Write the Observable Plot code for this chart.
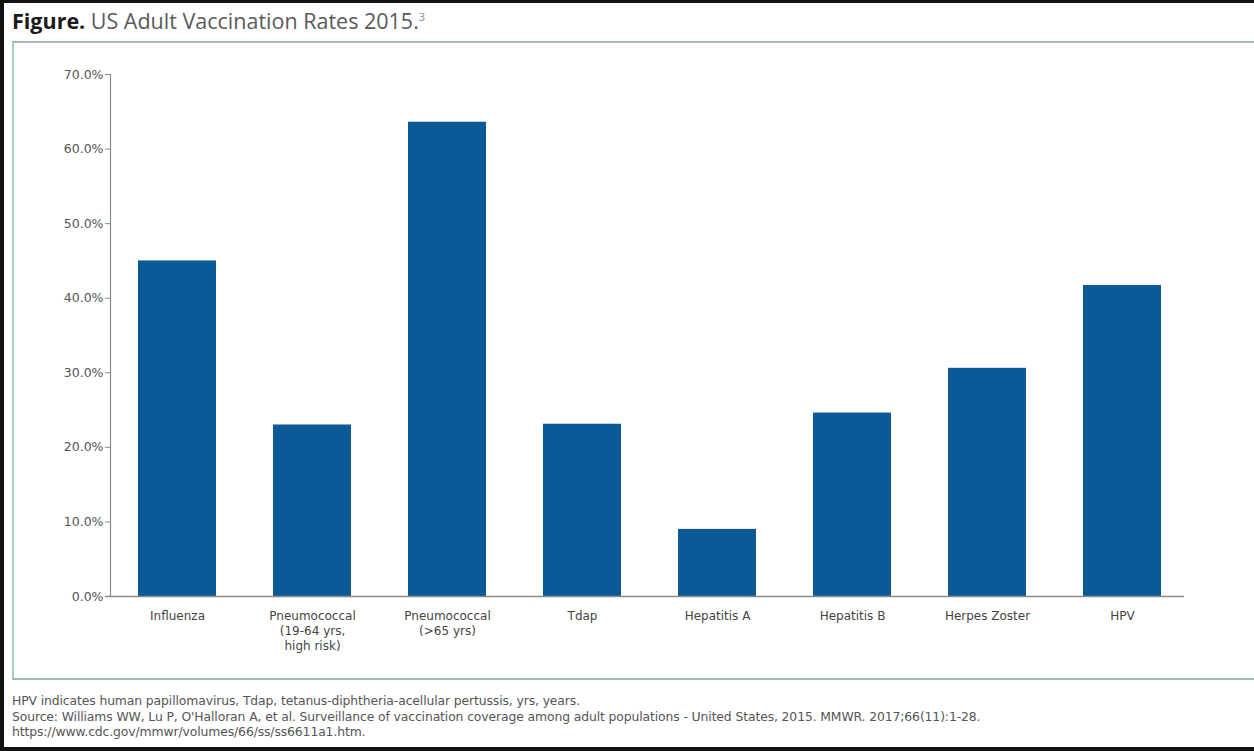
<!DOCTYPE html>
<html>
<head>
<meta charset="utf-8">
<script src="https://cdn.jsdelivr.net/npm/d3@7"></script>
<script src="https://cdn.jsdelivr.net/npm/@observablehq/plot@0.6"></script>
<style>
  html, body { margin: 0; padding: 0; background: #fff; overflow: hidden; }
  #page { position: relative; width: 1254px; height: 751px; box-sizing: border-box; border: 3px solid #111; border-left-width: 4px; border-bottom-width: 4px; border-right-width: 0; background: #fff; overflow: hidden; }
  #title { position: absolute; left: 8px; top: 3px; font-family: "Open Sans", Lato, sans-serif; font-size: 21.5px; color: #5a5a5a; white-space: nowrap; }
  #title b { color: #1a1a1a; font-weight: 700; }
  #title sup { font-size: 11px; color: #888; }
  #topline { position: absolute; left: 8px; right: 0; top: 38px; height: 0; border-top: 2px solid #a9b8b4; }
  #leftline { position: absolute; left: 8px; top: 39px; height: 637px; width: 0; border-left: 2px solid #9fd3c7; }
  #bottomline { position: absolute; left: 8px; right: 0; top: 675px; height: 0; border-top: 2px solid #9fbdb5; }
  #chart { position: absolute; left: 8px; top: 41px; }
  #foot { position: absolute; left: 8px; top: 690px; font-family: "DejaVu Sans", sans-serif; font-size: 12.4px; line-height: 15.5px; color: #555; white-space: nowrap; letter-spacing: -0.12px; }
</style>
</head>
<body>
<div id="page">
  <div id="title"><b>Figure.</b> US Adult Vaccination Rates 2015.<sup>3</sup></div>
  <div id="topline"></div>
  <div id="leftline"></div>
  <div id="chart"></div>
  <div id="bottomline"></div>
  <div id="foot">
    HPV indicates human papillomavirus, Tdap, tetanus-diphtheria-acellular pertussis, yrs, years.<br>
    Source: Williams WW, Lu P, O'Halloran A, et al. Surveillance of vaccination coverage among adult populations - United States, 2015. MMWR. 2017;66(11):1-28.<br>
    https://www.cdc.gov/mmwr/volumes/66/ss/ss6611a1.htm.
  </div>
</div>
<script>
const categories = ["Influenza", "Pneumococcal (19-64 yrs, high risk)", "Pneumococcal (>65 yrs)", "Tdap", "Hepatitis A", "Hepatitis B", "Herpes Zoster", "HPV"];
const tickLabels = ["Influenza", "Pneumococcal\n(19-64 yrs,\nhigh risk)", "Pneumococcal\n(>65 yrs)", "Tdap", "Hepatitis A", "Hepatitis B", "Herpes Zoster", "HPV"];
const rates = [45.0, 23.0, 63.6, 23.1, 9.0, 24.6, 30.6, 41.7];
const yTicks = [0, 10, 20, 30, 40, 50, 60, 70];

const data = categories.map((c, i) => ({category: c, rate: rates[i]}));
const labelOf = new Map(categories.map((c, i) => [c, tickLabels[i]]));

const chart = Plot.plot({
  width: 1200,
  height: 634,
  marginLeft: 98,
  marginRight: 24,
  marginTop: 30,
  marginBottom: 82,
  style: {fontFamily: "'DejaVu Sans', sans-serif", fontSize: "11px", color: "#444", background: "transparent"},
  x: {domain: categories, paddingInner: 0.425, paddingOuter: 0.2, label: null},
  y: {domain: [0, 70], label: null},
  marks: [
    Plot.barY(data, {x: "category", y: "rate", fill: "#0b5a97"}),
    Plot.frame({anchor: "left", stroke: "#8a8a8a", strokeWidth: 1.2}),
    Plot.ruleY([0], {stroke: "#8a8a8a", strokeWidth: 1.5, insetLeft: -5, insetRight: 4}),
    Plot.axisY({ticks: yTicks, tickSize: 5, tickPadding: 2, stroke: "#8a8a8a", fill: "#555", fontSize: 12.5, tickFormat: d => d.toFixed(1) + "%", label: null}),
    Plot.axisX({tickSize: 0, tickPadding: 13, fill: "#444", fontSize: 12, lineHeight: 1.25, tickFormat: d => labelOf.get(d), label: null})
  ]
});
document.getElementById("chart").appendChild(chart);
</script>
</body>
</html>
